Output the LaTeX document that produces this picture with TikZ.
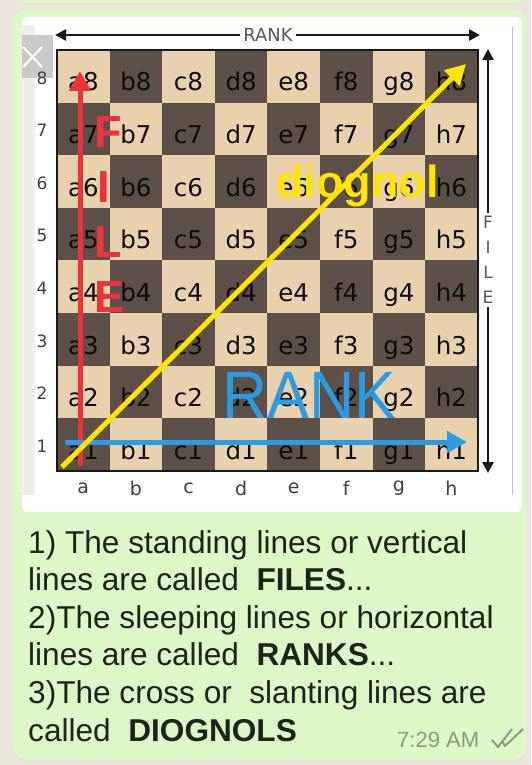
\documentclass[tikz,border=0pt]{standalone}
\usepackage{fontspec}
\setmainfont{Liberation Sans}
\newfontfamily\dvs{DejaVu Sans}
\usetikzlibrary{arrows.meta}
\definecolor{bgc}{HTML}{EAE4DC}
\definecolor{bub}{HTML}{DDF7C8}
\definecolor{stripc}{HTML}{EFEFEF}
\definecolor{boxc}{HTML}{CACACA}
\definecolor{lightsq}{HTML}{E8D2AE}
\definecolor{darksq}{HTML}{5C5049}
\definecolor{redc}{HTML}{EC3339}
\definecolor{bluec}{HTML}{2C9BE2}
\definecolor{yelc}{HTML}{FFE500}
\definecolor{tsc}{HTML}{8A9A85}
\definecolor{msgc}{HTML}{1E231C}
\tikzset{
  sqlab/.style={anchor=base, inner sep=0pt, font=\dvs\fontsize{24.5}{24.5}\selectfont, text=black!95},
  rnk/.style={inner sep=0pt, font=\dvs\fontsize{17}{17}\selectfont, text=black!75},
  filel/.style={inner sep=0pt, font=\dvs\fontsize{19}{19}\selectfont, text=black!75},
  blk/.style={line width=2.5pt, black!90, -{Triangle[length=11pt,width=11pt]}},
  bigarr/.style={line width=5pt, -{Triangle[length=20pt,width=21pt]}},
  redlet/.style={anchor=base west, inner sep=0pt, text=redc, font=\bfseries\fontsize{45}{45}\selectfont},
  msg/.style={anchor=base west, inner sep=0pt, text=msgc, font=\fontsize{31.6}{37}\selectfont},
}
\begin{document}
\begin{tikzpicture}[x=1pt,y=-1pt]
\useasboundingbox (0,0) rectangle (531,765);
\fill[bgc] (0,0) rectangle (531,765);
% bubbles
\fill[bub, rounded corners=12pt] (13,-30) rectangle (527,3);
\fill[black!12, rounded corners=14pt] (13,10.8) rectangle (527,761);
\fill[bub, rounded corners=14pt] (13,10) rectangle (527,760);
% image area
\fill[white, rounded corners=6pt] (22,17) rectangle (522,512);
\fill[stripc] (22,25) rectangle (35,495);
\fill[boxc] (22,35) rectangle (53,78);
\draw[white, line width=2pt] (23,47) -- (42,67) (42,47) -- (23,67);
\draw[black!25, line width=0.8pt] (512,27) -- (512,495);
% board
\foreach \f [count=\i from 0] in {a,b,c,d,e,f,g,h}{
  \foreach \j in {1,...,8}{
    \pgfmathsetmacro\sx{57+\i*52.6}
    \pgfmathsetmacro\sy{50+(8-\j)*52.6}
    \pgfmathtruncatemacro\sqpar{mod(\i+\j,2)}
    \ifnum\sqpar=1 \def\sqcol{darksq}\else\def\sqcol{lightsq}\fi
    \fill[\sqcol] (\sx,\sy) rectangle ++(52.6,52.6);
    \node[sqlab] (\f\j) at (\sx+26.3,\sy+41) {\f\j};
  }
  \node[filel] (file\f) at (57+\i*52.6+26.3,488) {\f};
}
\foreach \j in {1,...,8}{
  \node[rnk] (rank\j) at (42,50+8*52.6-\j*52.6+28) {\j};
}
\draw[line width=2.5pt, black!90] (57,50) rectangle (477.8,470.8);
% top RANK arrow
\node[inner sep=3pt, text=black!65, font=\dvs\fontsize{18}{18}\selectfont] (rankTop) at (268,35) {RANK};
\coordinate (tL) at (55,35);
\coordinate (tR) at (480,35);
\draw[blk] (rankTop.west) -- (tL);
\draw[blk] (rankTop.east) -- (tR);
% right FILE arrow
\node[inner sep=3pt, align=center, text=black!65, font=\dvs\fontsize{17}{25}\selectfont] (fileR) at (488,260) {F\\I\\L\\E};
\coordinate (rT) at (488,49);
\coordinate (rB) at (488,473);
\draw[blk] (fileR.north) -- (rT);
\draw[blk] (fileR.south) -- (rB);
% coloured arrows
\coordinate (redS) at (80,466);
\coordinate (redE) at (80,71);
\draw[bigarr, redc] (redS) -- (redE);
\coordinate (blueS) at (65,442);
\coordinate (blueE) at (467,442);
\draw[bigarr, bluec] (blueS) -- (blueE);
\coordinate (yelS) at (62,467);
\coordinate (yelE) at (466,64);
\draw[bigarr, yelc] (yelS) -- (yelE);
% red FILE letters
\node[redlet] (redF) at (94,147) {F};
\node[redlet] (redI) at (97,202) {I};
\node[redlet] (redL) at (94,257) {L};
\node[redlet] (redE2) at (94,312) {E};
% diognol
\node[anchor=base west, inner sep=0pt, text=yelc, font=\bfseries\fontsize{45}{45}\selectfont] (diag) at (276,197) {diognol};
% blue RANK
\node[anchor=base west, inner sep=0pt, text=bluec, font=\fontsize{67}{67}\selectfont] (blueRank) at (222,418) {\scalebox{0.935}[1]{RANK}};
% message text
\node[msg] (l1) at (28,553) {1) The standing lines or vertical};
\node[msg] (l2) at (28,590.5) {lines are called\ \ \textbf{FILES}...};
\node[msg] (l3) at (28,628) {2)The sleeping lines or horizontal};
\node[msg] (l4) at (28,665.5) {lines are called\ \ \textbf{RANKS}...};
\node[msg] (l5) at (28,703) {3)The cross or\ \ slanting lines are};
\node[msg] (l6) at (28,741) {called\ \ \textbf{DIOGNOLS}};
\node[anchor=base west, inner sep=0pt, text=tsc, font=\fontsize{22}{22}\selectfont] (time) at (397,747) {7:29 AM};
\draw[tsc, line width=2pt, line join=round] (492,740) -- (498,747) -- (512,729);
\draw[tsc, line width=2pt, line join=round] (502,741) -- (505,746) -- (523,729);
\end{tikzpicture}
\end{document}
